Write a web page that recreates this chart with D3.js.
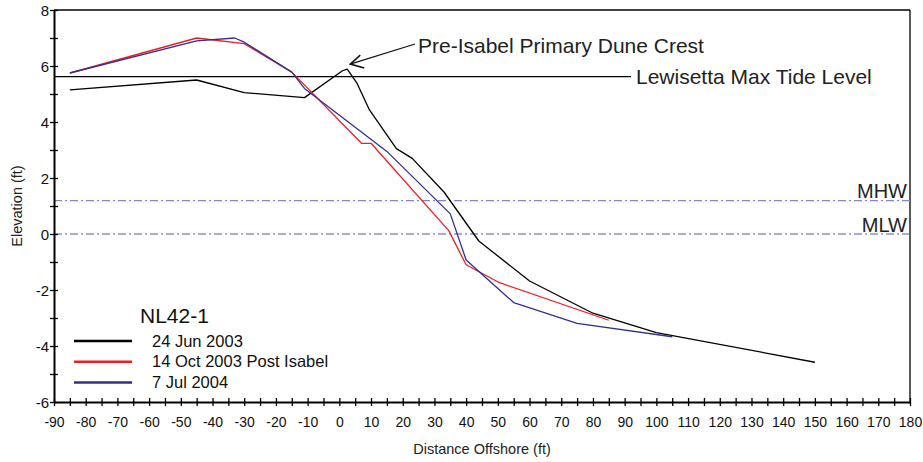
<!DOCTYPE html>
<html>
<head>
<meta charset="utf-8">
<script src="https://cdn.jsdelivr.net/npm/d3@7"></script>
<style>
  body { margin: 0; background: #fff; }
  svg { display: block; font-family: "Liberation Sans", Arial, sans-serif; }
</style>
</head>
<body>
<svg id="chart" width="923" height="462"></svg>
<script>
// profile survey data (distance ft, elevation ft)
const jun2003 = [[-85, 5.15], [-45, 5.5], [-30, 5.05], [-11, 4.87], [1, 5.83], [2.5, 5.89], [5.5, 5.4],
  [9.5, 4.43], [18, 3.05], [23, 2.7], [33, 1.5], [44, -0.25], [60, -1.68], [80, -2.83], [100, -3.52], [150, -4.58]];
const oct2003 = [[-85, 5.75], [-45, 7.0], [-30, 6.8], [-15, 5.78], [7, 3.24], [10, 3.24], [34.5, 0.12],
  [40, -1.1], [50.5, -1.74], [85, -3.08]];
const jul2004 = [[-85, 5.75], [-45, 6.9], [-33, 7.0], [-30, 6.85], [-15, 5.78], [-11, 5.2], [15, 2.95],
  [35, 0.72], [40, -0.93], [55, -2.45], [75, -3.19], [105, -3.67]];

const seriesNames = ['24 Jun 2003', '14 Oct 2003 Post Isabel', '7 Jul 2004'];
const seriesColors = ['#000000', '#ee1c25', '#2e3192'];
const seriesData = [jun2003, oct2003, jul2004];

const xTicks = d3.range(-90, 181, 5);
const yTicks = d3.range(-6, 9, 1);

const tideLevel = 5.62, tideLineEnd = 92;
const mhw = 1.19, mlw = 0;
const crest = [2.5, 5.89];

const svg = d3.select('#chart');
const x = d3.scaleLinear().domain([-90, 180]).range([54, 910]);
const y = d3.scaleLinear().domain([-6, 8]).range([402, 10]);

// frame top / right
svg.append('line').attr('x1', x(-90)).attr('x2', x(180)).attr('y1', y(8)).attr('y2', y(8))
  .attr('stroke', '#000').attr('stroke-width', 1.3);
svg.append('line').attr('x1', x(180)).attr('x2', x(180)).attr('y1', y(8)).attr('y2', y(-6))
  .attr('stroke', '#000').attr('stroke-width', 1.3);

// reference levels
svg.append('line').attr('x1', x(-90)).attr('x2', x(tideLineEnd)).attr('y1', y(tideLevel)).attr('y2', y(tideLevel))
  .attr('stroke', '#000').attr('stroke-width', 1.1);
svg.append('text').attr('x', x(tideLineEnd) + 5).attr('y', y(tideLevel) + 7).attr('font-size', 21)
  .attr('fill', '#222').text('Lewisetta Max Tide Level');

[[mhw, 'MHW', '#8484c8'], [mlw, 'MLW', '#5656b0']].forEach(([v, name, c]) => {
  svg.append('line').attr('x1', x(-90)).attr('x2', x(180)).attr('y1', y(v)).attr('y2', y(v))
    .attr('stroke', c).attr('stroke-width', 1.2).attr('stroke-dasharray', '8,3,2,3');
  svg.append('text').attr('x', x(180) - 3).attr('y', y(v) - 2.5).attr('text-anchor', 'end')
    .attr('font-size', 20).attr('fill', '#222').text(name);
});

// profiles
const line = d3.line().x(d => x(d[0])).y(d => y(d[1]));
seriesData.forEach((data, i) => {
  svg.append('path').datum(data).attr('d', line).attr('fill', 'none')
    .attr('stroke', seriesColors[i]).attr('stroke-width', 1.3).attr('stroke-linejoin', 'round');
});

// axes
const xAxis = svg.append('g').attr('transform', `translate(0,${y(-6)})`)
  .call(d3.axisBottom(x).tickValues(xTicks).tickFormat(d => d % 10 === 0 ? String(d) : '').tickSizeOuter(0));
xAxis.select('.domain').attr('stroke-width', 2);
xAxis.selectAll('.tick line').attr('y1', -4).attr('y2', 4).attr('stroke-width', 1.3);
xAxis.selectAll('.tick text').attr('y', 15).attr('font-size', 14).attr('fill', '#111')
  .attr('font-family', '"Liberation Sans", Arial, sans-serif');

const yAxis = svg.append('g').attr('transform', `translate(${x(-90)},0)`)
  .call(d3.axisLeft(y).tickValues(yTicks).tickFormat(d => d % 2 === 0 ? String(d) : '').tickSizeOuter(0));
yAxis.select('.domain').attr('stroke-width', 2);
yAxis.selectAll('.tick line').attr('x1', -4).attr('x2', 4).attr('stroke-width', 1.3);
yAxis.selectAll('.tick text').attr('x', -5).attr('dy', '0.37em').attr('font-size', 15).attr('fill', '#111')
  .attr('font-family', '"Liberation Sans", Arial, sans-serif');

// axis titles
svg.append('text').attr('transform', `translate(22,${y(1)}) rotate(-90)`).attr('text-anchor', 'middle')
  .attr('font-size', 14.5).attr('fill', '#222').text('Elevation (ft)');
svg.append('text').attr('x', x(45)).attr('y', 454).attr('text-anchor', 'middle')
  .attr('font-size', 14.5).attr('fill', '#222').text('Distance Offshore (ft)');

// crest annotation
const tipX = x(crest[0]) + 3, tipY = y(crest[1]) - 5;
svg.append('line').attr('x1', 415).attr('y1', 44).attr('x2', tipX).attr('y2', tipY)
  .attr('stroke', '#111').attr('stroke-width', 1.3);
svg.append('path').attr('d', `M${tipX + 10},${tipY - 9}L${tipX},${tipY}L${tipX + 14},${tipY + 4}`)
  .attr('fill', 'none').attr('stroke', '#111').attr('stroke-width', 1.5);
svg.append('text').attr('x', 418).attr('y', 52.5).attr('font-size', 21).attr('fill', '#222')
  .text('Pre-Isabel Primary Dune Crest');

// legend
const legend = svg.append('g');
legend.append('text').attr('x', 140).attr('y', 323).attr('font-size', 21).attr('fill', '#111').text('NL42-1');
seriesNames.forEach((name, i) => {
  const ly = 341 + i * 20.8;
  legend.append('line').attr('x1', 74).attr('x2', 132).attr('y1', ly).attr('y2', ly)
    .attr('stroke', seriesColors[i]).attr('stroke-width', 2.5);
  legend.append('text').attr('x', 152).attr('y', ly + 5.5).attr('font-size', 16.5).attr('fill', '#111').text(name);
});
</script>
</body>
</html>
